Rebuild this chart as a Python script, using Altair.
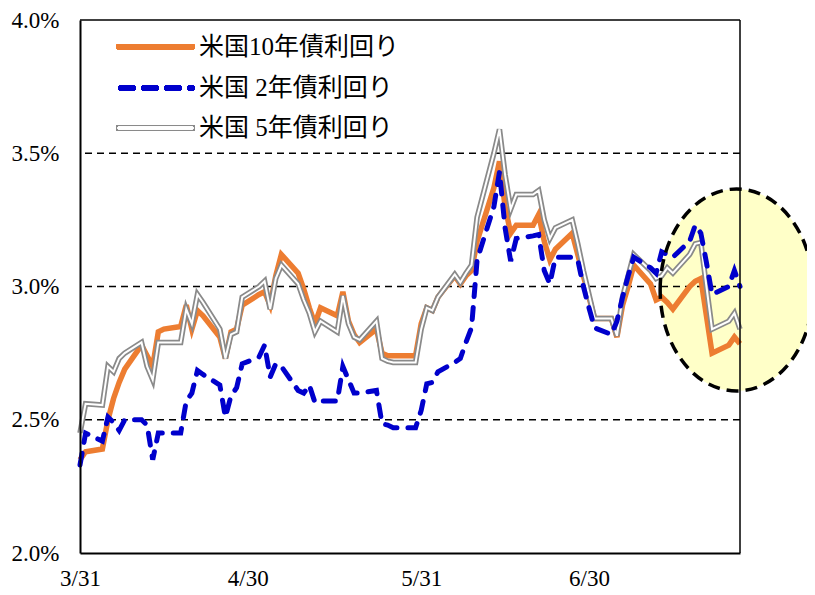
import altair as alt
import pandas as pd

# ---------------- data ----------------
DATES = [
    "2022-03-31", "2022-04-01", "2022-04-04", "2022-04-05", "2022-04-06", "2022-04-07", "2022-04-08",
    "2022-04-11", "2022-04-12", "2022-04-13", "2022-04-14", "2022-04-15", "2022-04-18", "2022-04-19",
    "2022-04-20", "2022-04-21", "2022-04-22", "2022-04-25", "2022-04-26", "2022-04-27", "2022-04-28",
    "2022-04-29", "2022-05-02", "2022-05-03", "2022-05-04", "2022-05-05", "2022-05-06", "2022-05-09",
    "2022-05-10", "2022-05-11", "2022-05-12", "2022-05-13", "2022-05-16", "2022-05-17", "2022-05-18",
    "2022-05-19", "2022-05-20", "2022-05-23", "2022-05-24", "2022-05-25", "2022-05-26", "2022-05-27",
    "2022-05-30", "2022-05-31", "2022-06-01", "2022-06-02", "2022-06-03", "2022-06-06", "2022-06-07",
    "2022-06-08", "2022-06-09", "2022-06-10", "2022-06-13", "2022-06-14", "2022-06-15", "2022-06-16",
    "2022-06-17", "2022-06-20", "2022-06-21", "2022-06-22", "2022-06-23", "2022-06-24", "2022-06-27",
    "2022-06-28", "2022-06-29", "2022-06-30", "2022-07-01", "2022-07-04", "2022-07-05", "2022-07-06",
    "2022-07-07", "2022-07-08", "2022-07-11", "2022-07-12", "2022-07-13", "2022-07-14", "2022-07-15",
    "2022-07-18", "2022-07-19", "2022-07-20", "2022-07-21", "2022-07-22", "2022-07-25", "2022-07-26",
    "2022-07-27",
]

US10Y = [
    2.35, 2.38, 2.39, 2.50, 2.58, 2.64, 2.69,
    2.78, 2.74, 2.70, 2.83, 2.84, 2.85, 2.93,
    2.84, 2.91, 2.89, 2.81, 2.73, 2.83, 2.84,
    2.93, 2.97, 2.98, 2.93, 3.04, 3.12, 3.05,
    2.99, 2.92, 2.86, 2.92, 2.89, 2.98, 2.87,
    2.82, 2.79, 2.84, 2.75, 2.74, 2.74, 2.74,
    2.74, 2.86, 2.92, 2.91, 2.96, 3.04, 3.01,
    3.04, 3.06, 3.17, 3.37, 3.47, 3.30, 3.20,
    3.23, 3.23, 3.27, 3.17, 3.10, 3.14, 3.20,
    3.12, 3.04, 2.96, 2.88, 2.88, 2.81, 2.93,
    3.00, 3.08, 3.01, 2.95, 2.96, 2.94, 2.915,
    3.00, 3.02, 3.03, 2.89, 2.75, 2.78, 2.81,
    2.785,
]

US2Y = [
    2.33, 2.45, 2.42, 2.51, 2.49, 2.46, 2.50,
    2.50, 2.48, 2.35, 2.45, 2.45, 2.45, 2.57,
    2.60, 2.685, 2.67, 2.63, 2.51, 2.59, 2.62,
    2.71, 2.735, 2.78, 2.66, 2.71, 2.70, 2.61,
    2.60, 2.63, 2.565, 2.57, 2.57, 2.70, 2.65,
    2.60, 2.60, 2.61, 2.485, 2.48, 2.47, 2.47,
    2.47, 2.535, 2.635, 2.64, 2.68, 2.715, 2.73,
    2.79, 2.845, 3.10, 3.30, 3.43, 3.22, 3.095,
    3.18, 3.19, 3.195, 3.06, 3.01, 3.11, 3.11,
    3.10, 3.00, 2.92, 2.845, 2.82, 2.87, 2.96,
    3.04, 3.11, 3.07, 3.05, 3.13, 3.12, 3.11,
    3.17, 3.23, 3.20, 3.09, 2.97, 3.00, 3.06,
    3.00,
]

US5Y = [
    2.45, 2.56, 2.555, 2.70, 2.68, 2.73, 2.75,
    2.79, 2.70, 2.65, 2.79, 2.79, 2.79, 2.915,
    2.86, 2.97, 2.94, 2.84, 2.73, 2.82, 2.83,
    2.96, 3.00, 3.02, 2.915, 3.03, 3.08, 3.01,
    2.95, 2.90, 2.83, 2.87, 2.83, 2.965, 2.86,
    2.81, 2.80, 2.87, 2.73, 2.72, 2.715, 2.715,
    2.715, 2.84, 2.92, 2.91, 2.96, 3.045, 3.015,
    3.05, 3.08, 3.26, 3.50, 3.59, 3.42, 3.29,
    3.345, 3.345, 3.36, 3.25, 3.18, 3.22, 3.25,
    3.16, 3.06, 2.97, 2.88, 2.88, 2.815, 2.96,
    3.04, 3.12, 3.06, 3.03, 3.04, 3.07, 3.05,
    3.12, 3.16, 3.165, 3.00, 2.84, 2.87, 2.90,
    2.84,
]

SERIES_NAMES = ["米国10年債利回り", "米国 2年債利回り", "米国 5年債利回り"]
Y_TICKS = [2.0, 2.5, 3.0, 3.5, 4.0]
GRID_VALUES = [2.5, 3.0, 3.5]
X_START = "2022-03-31"
X_END = "2022-07-27"
X_TICK_DATES = ["2022-03-31", "2022-04-30", "2022-05-31", "2022-06-30"]
X_TICK_LABELS = ["3/31", "4/30", "5/31", "6/30"]
HIGHLIGHT_CENTER_DAY = [117.4]      # days after X_START
HIGHLIGHT_CENTER_VALUE = [2.987]    # percent

# ---------------- styles ----------------
ORANGE = "#ED7D31"
BLUE = "#0000CC"
GRAY = "#8A8A8A"
YELLOW = "#FFFFC8"
AXIS_FONT = "Liberation Serif"
LEGEND_FONT = "Liberation Serif, Noto Sans CJK JP"
W, H = 660, 533

start = pd.Timestamp(X_START)
days = [(pd.Timestamp(d) - start).days for d in DATES]
end_day = (pd.Timestamp(X_END) - start).days
tick_days = [(pd.Timestamp(d) - start).days for d in X_TICK_DATES]

df = pd.DataFrame({"day": days, "y10": US10Y, "y2": US2Y, "y5": US5Y})
grid_df = pd.DataFrame({"value": GRID_VALUES})
top_df = pd.DataFrame({"value": [Y_TICKS[-1]]})
right_df = pd.DataFrame({"day": [end_day]})
ell_df = pd.DataFrame({"day": HIGHLIGHT_CENTER_DAY, "value": HIGHLIGHT_CENTER_VALUE})

label_expr = ""
for d, lab in zip(tick_days, X_TICK_LABELS):
    label_expr += f"datum.value == {d} ? '{lab}' : "
label_expr += "''"

X_AXIS = alt.Axis(values=tick_days, labelExpr=label_expr, ticks=False, tickSize=0, grid=False,
                  domain=True, domainColor="black", domainWidth=2, labelFont=AXIS_FONT,
                  labelFontSize=23, labelColor="black", labelPadding=14, labelFlush=False,
                  labelOverlap=False, zindex=1)
Y_AXIS = alt.Axis(values=Y_TICKS, labelExpr="format(datum.value, '.1f') + '%'", ticks=False,
                  tickSize=0, grid=False, domain=True, domainColor="black", domainWidth=2,
                  labelFont=AXIS_FONT, labelFontSize=23, labelColor="black", labelPadding=21,
                  labelFlush=False, labelOverlap=False, zindex=1)
X_SCALE = alt.Scale(domain=[0, end_day], nice=False, zero=False)
Y_SCALE = alt.Scale(domain=[Y_TICKS[0], Y_TICKS[-1]], nice=False, zero=False)


def xdef(field="day"):
    return alt.X(f"{field}:Q", scale=X_SCALE, axis=X_AXIS, title=None)


def ydef(field):
    return alt.Y(f"{field}:Q", scale=Y_SCALE, axis=Y_AXIS, title=None)


R = 101.0
rx_ratio = 76.5 / R
ELLIPSE_PATH = (f"M{-rx_ratio:.4f},0A{rx_ratio:.4f},1,0,1,1,{rx_ratio:.4f},0"
                f"A{rx_ratio:.4f},1,0,1,1,{-rx_ratio:.4f},0Z")
ELL_SIZE = (2 * R) ** 2

ell_fill = alt.Chart(ell_df).mark_point(
    shape=ELLIPSE_PATH, size=ELL_SIZE, filled=True, color=YELLOW, opacity=1, strokeWidth=0
).encode(x=xdef(), y=ydef("value"))

grid = alt.Chart(grid_df).mark_rule(color="black", strokeWidth=1.3, strokeDash=[7, 5]).encode(
    y=ydef("value"))

base = alt.Chart(df)
line10 = base.mark_line(color=ORANGE, strokeWidth=5.5).encode(x=xdef(), y=ydef("y10"))
line5o = base.mark_line(color=GRAY, strokeWidth=5.5).encode(x=xdef(), y=ydef("y5"))
line5i = base.mark_line(color="white", strokeWidth=2).encode(x=xdef(), y=ydef("y5"))
line2 = base.mark_line(color=BLUE, strokeWidth=5, strokeDash=[12, 11], strokeCap="round").encode(
    x=xdef(), y=ydef("y2"))

ell_line = alt.Chart(ell_df).mark_point(
    shape=ELLIPSE_PATH, size=ELL_SIZE, filled=False, color="black", opacity=1,
    strokeWidth=3.5, strokeDash=[12, 7]
).encode(x=xdef(), y=ydef("value"))

top_border = alt.Chart(top_df).mark_rule(color="black", strokeWidth=1.5).encode(y=ydef("value"))
right_border = alt.Chart(right_df).mark_rule(color="black", strokeWidth=1.5).encode(x=xdef())

# ---------------- legend (inside the plot, top-left) ----------------
leg_rows = [26.7, 68, 108]
leg_x0, leg_x1, leg_tx = 39, 112, 119
leg_layers = []
leg_layers.append(alt.Chart(df).mark_rule(color=ORANGE, strokeWidth=5.5, strokeCap="round").encode(
    x=alt.value(leg_x0), x2=alt.value(leg_x1), y=alt.value(leg_rows[0])))
leg_layers.append(alt.Chart(df).mark_rule(color=BLUE, strokeWidth=5, strokeDash=[12, 11],
                                          strokeCap="round").encode(
    x=alt.value(leg_x0 + 2), x2=alt.value(leg_x1), y=alt.value(leg_rows[1])))
leg_layers.append(alt.Chart(df).mark_rule(color=GRAY, strokeWidth=6, strokeCap="round").encode(
    x=alt.value(leg_x0), x2=alt.value(leg_x1), y=alt.value(leg_rows[2])))
leg_layers.append(alt.Chart(df).mark_rule(color="white", strokeWidth=2.5, strokeCap="round").encode(
    x=alt.value(leg_x0), x2=alt.value(leg_x1), y=alt.value(leg_rows[2])))
for name, yy in zip(SERIES_NAMES, leg_rows):
    leg_layers.append(alt.Chart(pd.DataFrame({"t": [name]})).mark_text(
        align="left", baseline="middle", font=LEGEND_FONT, fontSize=25, color="black").encode(
        x=alt.value(leg_tx), y=alt.value(yy), text="t:N"))

chart = alt.layer(
    ell_fill, grid, line10, line5o, line5i, line2, ell_line, top_border, right_border,
    *leg_layers
).properties(
    width=W, height=H,
    autosize=alt.AutoSizeParams(type="none"),
    padding={"left": 72, "top": 12, "right": 67, "bottom": 37},
    background="white",
).configure_view(strokeWidth=0)

chart.save("out.html", embed_options={"renderer": "svg", "actions": False})
